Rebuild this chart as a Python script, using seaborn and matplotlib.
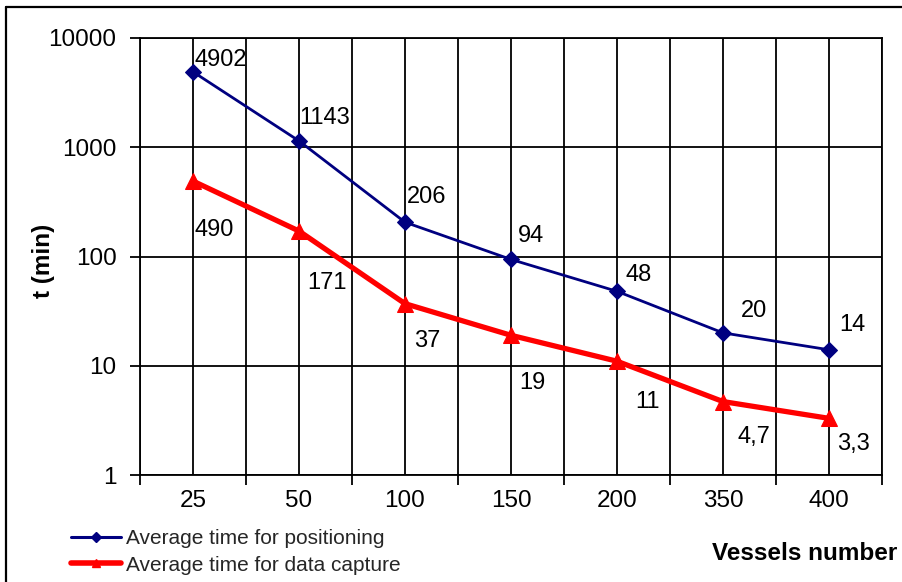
import matplotlib
matplotlib.use("Agg")
import matplotlib.pyplot as plt
import seaborn as sns
import pandas as pd
import numpy as np
from matplotlib.ticker import FixedLocator, NullLocator, FixedFormatter
from matplotlib.lines import Line2D

# ---- data ----
vessels = ["25", "50", "100", "150", "200", "350", "400"]
positioning = [4902, 1143, 206, 94, 48, 20, 14]
data_capture = [490, 171, 37, 19, 11, 4.7, 3.3]
series_names = ["Average time for positioning", "Average time for data capture"]
y_ticks = [1, 10, 100, 1000, 10000]

# label offsets (pixels at 100 dpi: left edge dx, centre dy upward)
pos_off = [(2, 12), (0, 23), (2, 25), (7, 23), (9, 16), (18, 22), (10, 25)]
cap_off = [(2, -49), (8, -52), (9, -37), (8, -48), (18, -41), (15, -35), (8, -26)]

sns.set_theme(style="white")
plt.rcParams["font.family"] = ["Liberation Sans", "DejaVu Sans"]

W, H = 903, 582
fig = plt.figure(figsize=(W / 100, H / 100), dpi=100)
ax = fig.add_axes([140 / W, 1 - 475 / H, 742 / W, 437 / H])

xs = np.arange(len(vessels))
df = pd.DataFrame({"x": np.concatenate([xs, xs]),
                   "t": positioning + data_capture,
                   "series": [series_names[0]] * len(xs) + [series_names[1]] * len(xs)})

sns.lineplot(data=df[df.series == series_names[0]], x="x", y="t", ax=ax,
             color="#000080", lw=2.0, marker="D", markersize=8.5,
             markeredgecolor="#000080", label=series_names[0], zorder=4)
sns.lineplot(data=df[df.series == series_names[1]], x="x", y="t", ax=ax,
             color="#FF0000", lw=3.8, marker="^", markersize=11,
             markeredgecolor="#FF0000", label=series_names[1], zorder=4)

ax.set_yscale("log")
ax.set_ylim(1, 10000)
ax.set_xlim(-0.5, len(vessels) - 0.5)

# y axis
ax.yaxis.set_major_locator(FixedLocator(y_ticks))
ax.yaxis.set_major_formatter(FixedFormatter([str(v) for v in y_ticks]))
ax.yaxis.set_minor_locator(NullLocator())
ax.tick_params(axis="y", which="major", direction="out", length=7, width=1.3,
               color="black", left=True, labelsize=17.5, pad=10, labelcolor="black")

# x axis: boundary ticks (major), labels at centers (minor)
bounds = np.arange(len(vessels) + 1) - 0.5
ax.xaxis.set_major_locator(FixedLocator(bounds))
ax.xaxis.set_major_formatter(FixedFormatter([""] * len(bounds)))
ax.xaxis.set_minor_locator(FixedLocator(xs))
ax.xaxis.set_minor_formatter(FixedFormatter(vessels))
ax.tick_params(axis="x", which="major", direction="out", length=7, width=1.3,
               color="black", bottom=True)
ax.tick_params(axis="x", which="minor", length=0, labelsize=17.5, pad=11,
               labelcolor="black")

# grid
ax.grid(True, which="major", axis="y", color="black", lw=1.3)
ax.grid(True, which="both", axis="x", color="black", lw=1.3)
ax.set_axisbelow(True)
for s in ax.spines.values():
    s.set_visible(True)
    s.set_color("black")
    s.set_linewidth(1.3)

ax.set_xlabel("")
ax.set_ylabel("t (min)", fontsize=17.5, fontweight="bold", color="black")
ax.yaxis.set_label_coords(-0.115, 0.49)

# data labels
def fmt(v):
    return (f"{v:g}").replace(".", ",")

for vals, offs in ((positioning, pos_off), (data_capture, cap_off)):
    for i, v in enumerate(vals):
        dx, dy = offs[i]
        ax.annotate(fmt(v), (xs[i], v), xytext=(dx * 0.72, dy * 0.72),
                    textcoords="offset points", ha="left", va="center",
                    fontsize=17, color="black", zorder=5)

# legend
ax.legend().remove()
handles = [Line2D([], [], color="#000080", lw=2.2, marker="D", markersize=5),
           Line2D([], [], color="#FF0000", lw=4.0, marker="^", markersize=6)]
fig.legend(handles, series_names, loc="center left",
           bbox_to_anchor=(71 / W, 1 - 552 / H), frameon=False,
           fontsize=15, handlelength=2.4, handletextpad=0.25,
           labelspacing=0.35, borderpad=0, borderaxespad=0)

fig.text(897 / W, 1 - 553 / H, "Vessels number", ha="right", va="center",
         fontsize=17.5, fontweight="bold", color="black")

# outer frame (left and top lines)
fig.add_artist(Line2D([6.5 / W, 6.5 / W], [0, 1 - 7 / H], color="black", lw=1.6,
                      transform=fig.transFigure))
fig.add_artist(Line2D([6.5 / W, 1], [1 - 7 / H, 1 - 7 / H], color="black", lw=1.6,
                      transform=fig.transFigure))

fig.savefig("out.png", dpi=100)
